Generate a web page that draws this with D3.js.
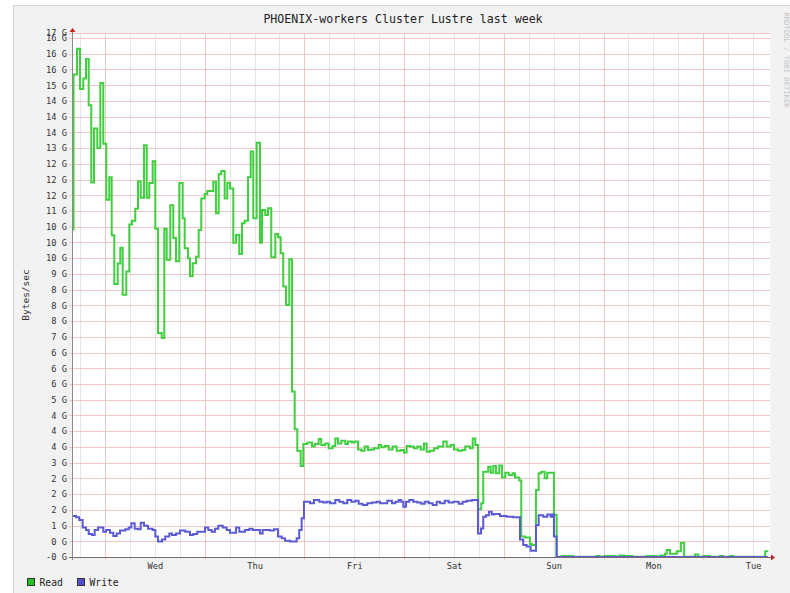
<!DOCTYPE html>
<html><head><meta charset="utf-8">
<script src="https://cdn.jsdelivr.net/npm/d3@7"></script>
<style>body{margin:0;background:#fff}svg{display:block}text{font-family:"DejaVu Sans Mono",monospace}</style>
</head><body><svg id="c" width="790" height="593"></svg>
<script>
const title = "PHOENIX-workers Cluster Lustre last week";
const yAxisTitle = "Bytes/sec";
const watermark = "RRDTOOL / TOBI OETIKER";
const seriesNames = ["Read", "Write"];
const seriesColors = ["#40cf40", "#5b5bd6"];
const legendColors = ["#22c022", "#5050d0"];
const dayLabels = ["Wed", "Thu", "Fri", "Sat", "Sun", "Mon", "Tue"];
const dayLabelHours = [12, 36, 60, 84, 108, 132, 156];
const yTickValues = [0,0.5,1,1.5,2,2.5,3,3.5,4,4.5,5,5.5,6,6.5,7,7.5,8,8.5,9,9.5,10,10.5,11,11.5,12,12.5,13,13.5,14,14.5,15,15.5,16,16.5,16.66];
const yTickLabels = ["-0 G","0 G","1 G","2 G","2 G","2 G","3 G","4 G","4 G","4 G","5 G","6 G","6 G","6 G","7 G","8 G","8 G","8 G","9 G","10 G","10 G","10 G","11 G","12 G","12 G","12 G","13 G","14 G","14 G","14 G","15 G","16 G","16 G","16 G","17 G"];
// hours relative to Wed 00:00
const startHour = -7.94, endHour = 160.06;
const readHours = [-7.94,-7.58,-6.74,-6.02,-5.22,-4.57,-3.92,-3.30,-2.65,-1.85,-1.13,-0.41,0.31,1.03,1.61,2.24,3.06,3.68,4.26,5.13,5.85,6.50,7.29,7.94,8.59,9.39,10.04,10.66,11.48,12.11,12.76,13.65,14.27,14.85,15.72,16.44,17.09,17.88,18.70,19.18,19.98,20.46,21.11,21.90,22.55,23.18,24.00,24.62,26.06,26.71,27.36,27.99,28.81,29.43,30.08,30.88,31.53,32.32,32.97,33.62,34.42,35.07,35.69,36.51,37.30,37.79,38.58,39.23,40.02,40.99,41.64,42.29,42.91,43.56,44.36,45.01,45.66,46.28,47.10,47.73,48.69,49.82,50.47,51.43,52.06,53.02,53.84,54.80,55.43,56.08,56.87,57.84,58.48,59.45,60.10,60.89,61.69,62.50,63.30,63.95,64.74,65.87,66.50,67.32,68.28,69.24,70.20,71.17,71.96,72.61,73.41,74.37,75.16,75.98,76.77,77.42,78.22,79.18,80.14,81.42,82.24,83.20,83.99,84.96,85.92,86.71,87.85,88.50,89.12,89.77,90.56,91.05,92.25,92.83,93.46,94.10,94.90,95.55,96.34,97.16,98.12,98.68,99.71,100.19,101.16,102.29,102.77,103.73,104.38,105.01,105.83,106.45,108.06,108.71,109.9,112.7,118.3,119.1,120.2,123.0,123.8,125.0,126.9,130.4,132.8,133.6,134.4,134.8,135.2,136.0,137.6,138.6,139.4,142.0,142.8,144.0,145.6,148.0,148.8,150.4,151.2,158.9];
const readValues = [10.41,15.34,16.16,14.88,15.21,15.83,14.36,11.91,13.62,13.00,15.07,13.14,11.36,12.07,10.23,8.68,9.33,9.83,8.34,9.08,10.57,10.69,11.07,11.95,11.42,13.09,11.42,11.89,12.58,10.44,7.12,6.96,10.44,9.45,11.18,10.14,9.40,11.89,10.77,9.82,9.50,8.93,9.34,9.55,10.40,11.40,11.54,11.64,11.93,10.93,12.17,12.27,11.40,11.90,11.72,9.99,10.24,9.63,10.61,10.69,12.07,12.89,10.77,13.17,9.99,11.03,10.87,11.09,9.53,10.27,10.17,9.66,8.60,8.01,9.47,5.26,4.06,3.38,2.89,3.59,3.64,3.51,3.59,3.75,3.56,3.61,3.46,3.53,3.77,3.61,3.70,3.59,3.67,3.64,3.67,3.42,3.38,3.51,3.40,3.42,3.46,3.56,3.49,3.53,3.42,3.51,3.38,3.40,3.32,3.53,3.51,3.46,3.51,3.42,3.61,3.35,3.38,3.46,3.51,3.67,3.51,3.56,3.42,3.38,3.40,3.51,3.46,3.77,3.56,1.52,1.71,2.71,2.87,2.68,2.89,2.66,2.91,2.53,2.68,2.61,2.66,2.53,2.43,0.65,0.62,0.41,0.38,2.13,2.66,2.71,2.50,2.68,1.34,0.01,0.03,0.01,0.03,0.01,0.03,0.01,0.05,0.03,0.01,0.03,0.01,0.05,0.01,0.10,0.22,0.10,0.18,0.45,0.01,0.08,0.01,0.03,0.01,0.03,0.01,0.03,0.01,0.18];
const writeHours = [-7.94,-6.98,-6.19,-5.37,-4.57,-3.92,-3.13,-2.48,-1.68,-0.41,0.24,1.20,2.00,2.82,3.61,4.89,5.70,6.33,7.15,7.94,8.59,9.39,10.35,11.48,12.11,12.76,13.72,14.51,15.48,16.13,17.09,18.05,19.33,20.46,21.25,22.21,24.07,24.86,25.68,26.47,27.27,28.33,29.29,30.08,31.53,32.32,33.69,34.73,35.55,37.30,37.95,39.71,40.67,41.64,42.53,43.32,44.52,46.13,46.75,47.33,47.89,49.34,50.30,51.58,52.54,53.36,54.15,55.43,56.39,57.35,58.32,59.28,60.24,61.06,62.02,63.13,64.26,65.39,66.19,67.94,69.07,69.87,70.69,71.31,71.80,72.44,73.24,74.20,75.16,76.13,76.95,77.91,78.87,79.83,80.63,81.76,82.72,83.83,85.13,86.09,87.05,88.33,89.77,90.50,91.05,91.70,92.40,93.10,93.60,95.07,96.67,98.27,99.88,100.67,101.48,102.45,103.73,104.38,105.49,106.45,107.27,107.75,108.06,108.71];
const writeValues = [1.30,1.26,1.18,0.94,0.86,0.73,0.70,0.86,0.94,0.80,0.86,0.77,0.67,0.75,0.84,0.88,0.94,1.07,0.90,0.88,1.09,0.99,0.90,0.86,0.65,0.49,0.56,0.65,0.75,0.70,0.75,0.84,0.80,0.70,0.73,0.80,0.94,0.86,0.80,0.90,0.99,0.94,0.86,0.77,0.94,0.80,0.86,0.90,0.86,0.75,0.86,0.84,0.88,0.65,0.60,0.52,0.49,0.60,0.86,1.23,1.76,1.71,1.81,1.76,1.73,1.76,1.71,1.81,1.76,1.71,1.81,1.76,1.79,1.69,1.65,1.71,1.73,1.76,1.71,1.79,1.71,1.76,1.81,1.76,1.60,1.76,1.81,1.76,1.73,1.69,1.76,1.71,1.65,1.76,1.71,1.79,1.73,1.76,1.69,1.76,1.79,1.81,0.75,0.91,1.28,1.33,1.44,1.35,1.37,1.30,1.28,1.26,0.56,0.38,0.33,0.20,1.02,1.33,1.28,1.35,1.28,1.35,0.65,0.00];

const svg = d3.select("#c");
const L = 72, R = 770, T = 33, B = 557;
const x = d3.scaleLinear().domain([startHour, endHour]).range([L, R]);
const y = d3.scaleLinear().domain([0, 16.66]).range([B, T]);

// frame
svg.append("rect").attr("x", 13.5).attr("y", 5.5).attr("width", 800).attr("height", 600)
  .attr("fill", "#f2f2f2").attr("stroke", "#d4d4d4");
svg.append("rect").attr("x", L).attr("y", T).attr("width", R - L).attr("height", B - T).attr("fill", "#fff");

// vertical grid
const sixHours = d3.range(-6, endHour, 6);
svg.append("g").selectAll("line").data(sixHours.filter(h => h % 24 !== 0)).join("line")
  .attr("x1", d => Math.round(x(d)) + 0.5).attr("x2", d => Math.round(x(d)) + 0.5)
  .attr("y1", T).attr("y2", B + 3).attr("stroke", "#e6e6e6");
// horizontal grid
svg.append("g").selectAll("line").data(yTickValues).join("line")
  .attr("x1", L - 3).attr("x2", R).attr("y1", d => Math.round(y(d)) + 0.5).attr("y2", d => Math.round(y(d)) + 0.5)
  .attr("stroke", "#f3c6c6");
svg.append("g").selectAll("line").data(sixHours.filter(h => h % 24 === 0)).join("line")
  .attr("x1", d => Math.round(x(d)) + 0.5).attr("x2", d => Math.round(x(d)) + 0.5)
  .attr("y1", T).attr("y2", B + 3).attr("stroke", "#f3c6c6");

// y axis labels
const yAxis = d3.axisLeft(y).tickValues(yTickValues).tickFormat((d, i) => yTickLabels[i]).tickSize(0).tickPadding(5);
const gy = svg.append("g").attr("transform", `translate(${L},0)`).call(yAxis);
gy.select(".domain").remove();
gy.selectAll("text").attr("font-family", "DejaVu Sans Mono").attr("font-size", 8.7).attr("fill", "#333");

// x axis labels
const xAxis = d3.axisBottom(x).tickValues(dayLabelHours).tickFormat((d, i) => dayLabels[i]).tickSize(0).tickPadding(6);
const gx = svg.append("g").attr("transform", `translate(0,${B})`).call(xAxis);
gx.select(".domain").remove();
gx.selectAll("text").attr("font-family", "DejaVu Sans Mono").attr("font-size", 8.7).attr("fill", "#333");

// series lines
const line = d3.line().x(d => x(d[0])).y(d => y(d[1])).curve(d3.curveStepAfter);
function pts(hs, vs) { const p = hs.map((h, i) => [h, vs[i]]); p.push([endHour - 0.4, vs[vs.length - 1]]); return p; }
const series = [pts(readHours, readValues), pts(writeHours, writeValues)];
series.forEach((p, i) => {
  svg.append("path").attr("d", line(p)).attr("fill", "none").attr("stroke", seriesColors[i])
    .attr("stroke-width", 2).attr("stroke-linejoin", "miter");
});

// axes lines + arrows
svg.append("line").attr("x1", L - 3).attr("x2", R + 1).attr("y1", B + 0.5).attr("y2", B + 0.5).attr("stroke", "#7a6a6a");
svg.append("line").attr("x1", L + 0.5).attr("x2", L + 0.5).attr("y1", B + 3).attr("y2", T - 2).attr("stroke", "#8a8a8a");
svg.append("path").attr("d", `M${R + 1},${B - 2.5}L${R + 5},${B + 0.5}L${R + 1},${B + 3.5}Z`).attr("fill", "#cc2020");
svg.append("path").attr("d", `M${L - 2.5},${T - 1}L${L + 0.5},${T - 5}L${L + 3.5},${T - 1}Z`).attr("fill", "#cc2020");

// titles
svg.append("text").attr("x", 403).attr("y", 23).attr("text-anchor", "middle").attr("font-size", 11.6).attr("fill", "#222").text(title);
svg.append("text").attr("transform", "translate(29,295) rotate(-90)").attr("text-anchor", "middle")
  .attr("font-size", 9.5).attr("fill", "#333").text(yAxisTitle);
svg.append("text").attr("transform", "translate(784,60) rotate(90)").attr("text-anchor", "middle")
  .attr("font-size", 7.2).attr("fill", "#c4c4c4").text(watermark);

// legend
const legX = [27.5, 77.5];
seriesNames.forEach((n, i) => {
  svg.append("rect").attr("x", legX[i]).attr("y", 578.5).attr("width", 7).attr("height", 7)
    .attr("fill", legendColors[i]).attr("stroke", "#333");
  svg.append("text").attr("x", legX[i] + 12).attr("y", 586).attr("font-size", 9.7).attr("fill", "#222").text(n);
});
</script></body></html>
